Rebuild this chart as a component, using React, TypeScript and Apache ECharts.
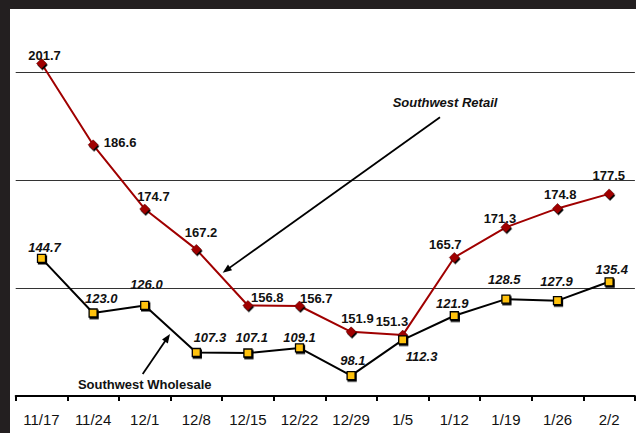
import React, { useEffect, useRef } from "react";
import * as echarts from "echarts";

const categories = ["11/17", "11/24", "12/1", "12/8", "12/15", "12/22", "12/29", "1/5", "1/12", "1/19", "1/26", "2/2"];
const retail = [201.7, 186.6, 174.7, 167.2, 156.8, 156.7, 151.9, 151.3, 165.7, 171.3, 174.8, 177.5];
const wholesale = [144.7, 123.0, 126.0, 107.3, 107.1, 109.1, 98.1, 112.3, 121.9, 128.5, 127.9, 135.4];

// label placement (layout only)
const retailLabelOffsets = [
  [3, -7.5], [27, -2], [8.7, -12.7], [4.7, -16.6], [19.4, -7.7], [16.7, -7.7],
  [6.3, -13], [-10.8, -13.3], [-9, -13], [-6, -9], [2.7, -13.7], [-0.3, -18],
];
const wholesaleLabelOffsets = [
  [3, -11], [8.2, -14.7], [1.7, -21], [13.6, -14.6], [3.8, -15], [0, -10],
  [1.8, -15.6], [18.9, 17], [-2, -12.4], [-1.6, -19.7], [-1, -19.6], [2.6, -12],
];

const FONT = "'Liberation Sans', Arial, Helvetica, sans-serif";
const OX = 10;
const OY = 9;

function arrow(x1: number, y1: number, x2: number, y2: number) {
  const dx = x2 - x1;
  const dy = y2 - y1;
  const len = Math.sqrt(dx * dx + dy * dy);
  const ux = dx / len;
  const uy = dy / len;
  const hl = 9;
  const hw = 3.5;
  const bx = x2 - ux * hl;
  const by = y2 - uy * hl;
  return [
    {
      type: "line",
      shape: { x1: x1 - OX, y1: y1 - OY, x2: bx + ux * 2 - OX, y2: by + uy * 2 - OY },
      style: { stroke: "#000", lineWidth: 1.8 },
      silent: true,
      z: 100,
    },
    {
      type: "polygon",
      shape: {
        points: [
          [x2 - OX, y2 - OY],
          [bx - uy * hw - OX, by + ux * hw - OY],
          [bx + uy * hw - OX, by - ux * hw - OY],
        ],
      },
      style: { fill: "#000" },
      silent: true,
      z: 100,
    },
  ];
}

export default function App() {
  const ref = useRef<HTMLDivElement>(null);
  useEffect(() => {
    if (!ref.current) return;
    const chart = echarts.init(ref.current, undefined, { renderer: "svg" });
    const labelFmt = (p: any) => Number(p.value).toFixed(1);
    chart.setOption({
      animation: false,
      backgroundColor: "#ffffff",
      grid: { left: 5.7, right: 1.1, top: 9.7, bottom: 37 },
      xAxis: {
        type: "category",
        data: categories,
        boundaryGap: true,
        axisLine: { show: true, lineStyle: { color: "#000", width: 2 } },
        axisTick: { show: true, length: 5, lineStyle: { color: "#000", width: 2 } },
        axisLabel: { interval: 0, margin: 16, fontSize: 15, color: "#111", fontFamily: FONT },
        splitLine: { show: false },
      },
      yAxis: [
        {
          type: "value",
          min: 140,
          max: 210,
          interval: 20,
          axisLine: { show: false },
          axisTick: { show: false },
          axisLabel: { show: false },
          splitLine: { show: true, showMinLine: false, showMaxLine: false, lineStyle: { color: "#333", width: 1 } },
        },
        {
          type: "value",
          min: 90,
          max: 240,
          axisLine: { show: false },
          axisTick: { show: false },
          axisLabel: { show: false },
          splitLine: { show: false },
        },
      ],
      series: [
        {
          name: "Southwest Retail",
          type: "line",
          yAxisIndex: 0,
          data: retail.map((v, i) => ({ value: v, label: { offset: retailLabelOffsets[i] } })),
          symbol: "diamond",
          symbolSize: 10,
          lineStyle: { color: "#A00000", width: 2 },
          itemStyle: {
            color: "#A00000",
            borderColor: "#5a0000",
            borderWidth: 0.5,
            shadowColor: "#000",
            shadowOffsetX: 1,
            shadowOffsetY: 1.5,
            shadowBlur: 0.1,
          },
          label: {
            show: true,
            position: "inside",
            formatter: labelFmt,
            fontSize: 13,
            fontWeight: "bold",
            fontFamily: FONT,
            color: "#111",
          },
          z: 3,
        },
        {
          name: "Southwest Wholesale",
          type: "line",
          yAxisIndex: 1,
          data: wholesale.map((v, i) => ({ value: v, label: { offset: wholesaleLabelOffsets[i] } })),
          symbol: "rect",
          symbolSize: 8,
          lineStyle: { color: "#000", width: 2 },
          itemStyle: {
            color: "#FFC20E",
            borderColor: "#000",
            borderWidth: 1.3,
            shadowColor: "#000",
            shadowOffsetX: 1,
            shadowOffsetY: 1.5,
            shadowBlur: 0.1,
          },
          label: {
            show: true,
            position: "inside",
            formatter: labelFmt,
            fontSize: 13,
            fontWeight: "bold",
            fontStyle: "italic",
            fontFamily: FONT,
            color: "#111",
          },
          z: 4,
        },
      ],
      graphic: [
        {
          type: "text",
          x: 445 - OX,
          y: 102.8 - OY,
          style: {
            text: "Southwest Retail",
            font: `italic bold 13px ${FONT}`,
            fill: "#111",
            align: "center",
            verticalAlign: "middle",
          },
          z: 100,
        },
        {
          type: "text",
          x: 144.7 - OX,
          y: 384.5 - OY,
          style: {
            text: "Southwest Wholesale",
            font: `bold 13px ${FONT}`,
            fill: "#111",
            align: "center",
            verticalAlign: "middle",
          },
          z: 100,
        },
        ...arrow(440, 117.3, 222.7, 272.7),
        ...arrow(142.7, 374, 170, 334),
      ],
    });
    return () => chart.dispose();
  }, []);
  return (
    <div style={{ position: "fixed", left: 0, top: 0, width: 636, height: 433, background: "#231f20" }}>
      <div ref={ref} style={{ position: "absolute", left: OX, top: OY, width: 626, height: 424 }} />
    </div>
  );
}
